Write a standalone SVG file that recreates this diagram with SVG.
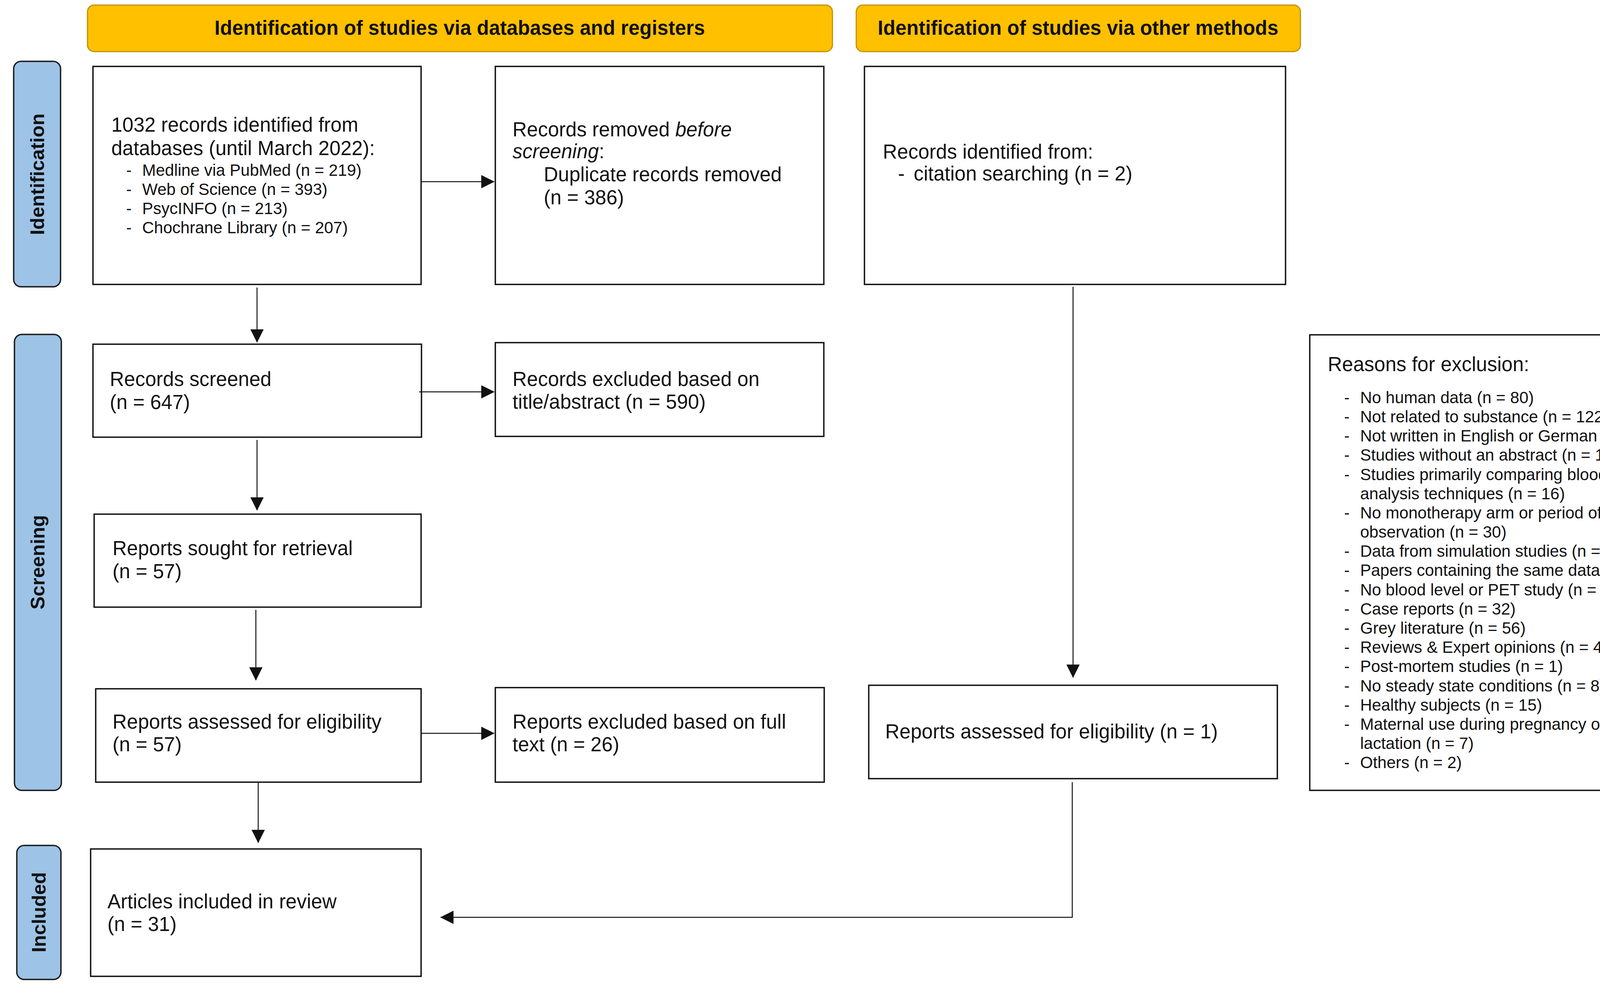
<svg xmlns="http://www.w3.org/2000/svg" width="4311" height="2534" viewBox="0 0 4311 2534">
<style>
text{font-family:"Liberation Sans",Arial,sans-serif;fill:#111}
.t{font-size:51px}
.s{font-size:42px}
.hd{font-size:51px;font-weight:bold}
.bar{fill:#9DC3E6;stroke:#1a1a1a;stroke-width:3.5}
.hdr{fill:#FFC000;stroke:#BF9000;stroke-width:3}
.box{fill:#fff;stroke:#111;stroke-width:3.5}
.lab{font-size:50px;font-weight:bold}
.con{fill:none;stroke:#111;stroke-width:2.5}
</style>
<defs>
<marker id="ah" markerUnits="userSpaceOnUse" markerWidth="34" markerHeight="34" refX="33" refY="17" orient="auto">
<path d="M0,0 L34,17 L0,34 z" fill="#111"/>
</marker>
</defs>
<rect width="4311" height="2534" fill="#fff"/>

<g id="header-databases">
<rect class="hdr" x="224" y="13" width="1907" height="119" rx="17"/>
<text class="hd" x="1177" y="89" text-anchor="middle">Identification of studies via databases and registers</text>
</g>
<g id="header-other">
<rect class="hdr" x="2192" y="13" width="1137" height="119" rx="17"/>
<text class="hd" x="2760" y="89" text-anchor="middle">Identification of studies via other methods</text>
</g>

<g id="bar-identification">
<rect class="bar" x="35" y="157" width="120" height="577" rx="19"/>
<text class="lab" transform="translate(113,446) rotate(-90)" text-anchor="middle">Identification</text>
</g>
<g id="bar-screening">
<rect class="bar" x="37" y="856" width="120" height="1167" rx="19"/>
<text class="lab" transform="translate(114,1439) rotate(-90)" text-anchor="middle">Screening</text>
</g>
<g id="bar-included">
<rect class="bar" x="43" y="2164" width="113" height="343" rx="19"/>
<text class="lab" transform="translate(117,2335) rotate(-90)" text-anchor="middle">Included</text>
</g>

<g id="node-records-identified">
<rect class="box" x="238" y="170" width="840" height="558"/>
<text class="t" x="285" y="337">1032 records identified from</text>
<text class="t" x="285" y="397">databases (until March 2022):</text>
<text class="s" x="323" y="450">-</text><text class="s" x="364" y="450">Medline via PubMed (n = 219)</text>
<text class="s" x="323" y="499">-</text><text class="s" x="364" y="499">Web of Science (n = 393)</text>
<text class="s" x="323" y="548">-</text><text class="s" x="364" y="548">PsycINFO (n = 213)</text>
<text class="s" x="323" y="597">-</text><text class="s" x="364" y="597">Chochrane Library (n = 207)</text>
</g>

<g id="node-records-removed">
<rect class="box" x="1268" y="170" width="841" height="558"/>
<text class="t" x="1312" y="349">Records removed <tspan font-style="italic">before</tspan></text>
<text class="t" x="1312" y="405"><tspan font-style="italic">screening</tspan>:</text>
<text class="t" x="1392" y="464">Duplicate records removed</text>
<text class="t" x="1392" y="523">(n = 386)</text>
</g>

<g id="node-other-records">
<rect class="box" x="2213" y="170" width="1078" height="558"/>
<text class="t" x="2260" y="406">Records identified from:</text>
<text class="t" x="2299" y="462">-</text><text class="t" x="2339" y="462">citation searching (n = 2)</text>
</g>

<g id="node-records-screened">
<rect class="box" x="238" y="881" width="841" height="238"/>
<text class="t" x="281" y="988">Records screened</text>
<text class="t" x="281" y="1047">(n = 647)</text>
</g>

<g id="node-records-excluded">
<rect class="box" x="1268" y="877" width="841" height="240"/>
<text class="t" x="1312" y="988">Records excluded based on</text>
<text class="t" x="1312" y="1046">title/abstract (n = 590)</text>
</g>

<g id="node-reports-sought">
<rect class="box" x="241" y="1316" width="837" height="238"/>
<text class="t" x="288" y="1421">Reports sought for retrieval</text>
<text class="t" x="288" y="1480">(n = 57)</text>
</g>

<g id="node-reports-assessed">
<rect class="box" x="245" y="1763" width="833" height="239"/>
<text class="t" x="288" y="1865">Reports assessed for eligibility</text>
<text class="t" x="288" y="1923">(n = 57)</text>
</g>

<g id="node-reports-excluded">
<rect class="box" x="1268" y="1760" width="842" height="242"/>
<text class="t" x="1312" y="1865">Reports excluded based on full</text>
<text class="t" x="1312" y="1923">text (n = 26)</text>
</g>

<g id="node-other-assessed">
<rect class="box" x="2224" y="1754" width="1046" height="239"/>
<text class="t" x="2266" y="1890">Reports assessed for eligibility (n = 1)</text>
</g>

<g id="node-reasons">
<rect class="box" x="3353" y="857" width="946" height="1166"/>
<text class="t" x="3399" y="950">Reasons for exclusion:</text>
<g class="s">
<text class="s" x="3441" y="1032">-</text><text class="s" x="3482" y="1032">No human data (n = 80)</text>
<text class="s" x="3441" y="1081">-</text><text class="s" x="3482" y="1081">Not related to substance (n = 122)</text>
<text class="s" x="3441" y="1130">-</text><text class="s" x="3482" y="1130">Not written in English or German (n = 7)</text>
<text class="s" x="3441" y="1179">-</text><text class="s" x="3482" y="1179">Studies without an abstract (n = 14)</text>
<text class="s" x="3441" y="1229">-</text><text class="s" x="3482" y="1229">Studies primarily comparing blood</text>
<text class="s" x="3482" y="1278">analysis techniques (n = 16)</text>
<text class="s" x="3441" y="1327">-</text><text class="s" x="3482" y="1327">No monotherapy arm or period of</text>
<text class="s" x="3482" y="1376">observation (n = 30)</text>
<text class="s" x="3441" y="1425">-</text><text class="s" x="3482" y="1425">Data from simulation studies (n = 5)</text>
<text class="s" x="3441" y="1474">-</text><text class="s" x="3482" y="1474">Papers containing the same data (n = 2)</text>
<text class="s" x="3441" y="1524">-</text><text class="s" x="3482" y="1524">No blood level or PET study (n = 174)</text>
<text class="s" x="3441" y="1573">-</text><text class="s" x="3482" y="1573">Case reports (n = 32)</text>
<text class="s" x="3441" y="1622">-</text><text class="s" x="3482" y="1622">Grey literature (n = 56)</text>
<text class="s" x="3441" y="1671">-</text><text class="s" x="3482" y="1671">Reviews &amp; Expert opinions (n = 45)</text>
<text class="s" x="3441" y="1720">-</text><text class="s" x="3482" y="1720">Post-mortem studies (n = 1)</text>
<text class="s" x="3441" y="1770">-</text><text class="s" x="3482" y="1770">No steady state conditions (n = 8)</text>
<text class="s" x="3441" y="1819">-</text><text class="s" x="3482" y="1819">Healthy subjects (n = 15)</text>
<text class="s" x="3441" y="1868">-</text><text class="s" x="3482" y="1868">Maternal use during pregnancy or</text>
<text class="s" x="3482" y="1917">lactation (n = 7)</text>
<text class="s" x="3441" y="1966">-</text><text class="s" x="3482" y="1966">Others (n = 2)</text>
</g>
</g>

<g id="node-articles-included">
<rect class="box" x="232" y="2173" width="846" height="326"/>
<text class="t" x="275" y="2325">Articles included in review</text>
<text class="t" x="275" y="2383">(n = 31)</text>
</g>

<g id="connectors">
<line class="con" x1="658" y1="736" x2="658" y2="876" marker-end="url(#ah)"/>
<line class="con" x1="1078" y1="465" x2="1265" y2="465" marker-end="url(#ah)"/>
<line class="con" x1="1073" y1="1003" x2="1265" y2="1003" marker-end="url(#ah)"/>
<line class="con" x1="658" y1="1126" x2="658" y2="1306" marker-end="url(#ah)"/>
<line class="con" x1="655" y1="1561" x2="655" y2="1741" marker-end="url(#ah)"/>
<line class="con" x1="1078" y1="1877" x2="1265" y2="1877" marker-end="url(#ah)"/>
<line class="con" x1="661" y1="2004" x2="661" y2="2157" marker-end="url(#ah)"/>
<line class="con" x1="2747" y1="734" x2="2747" y2="1734" marker-end="url(#ah)"/>
<polyline class="con" points="2745,2002 2745,2348 1128,2348" marker-end="url(#ah)"/>
</g>
</svg>
